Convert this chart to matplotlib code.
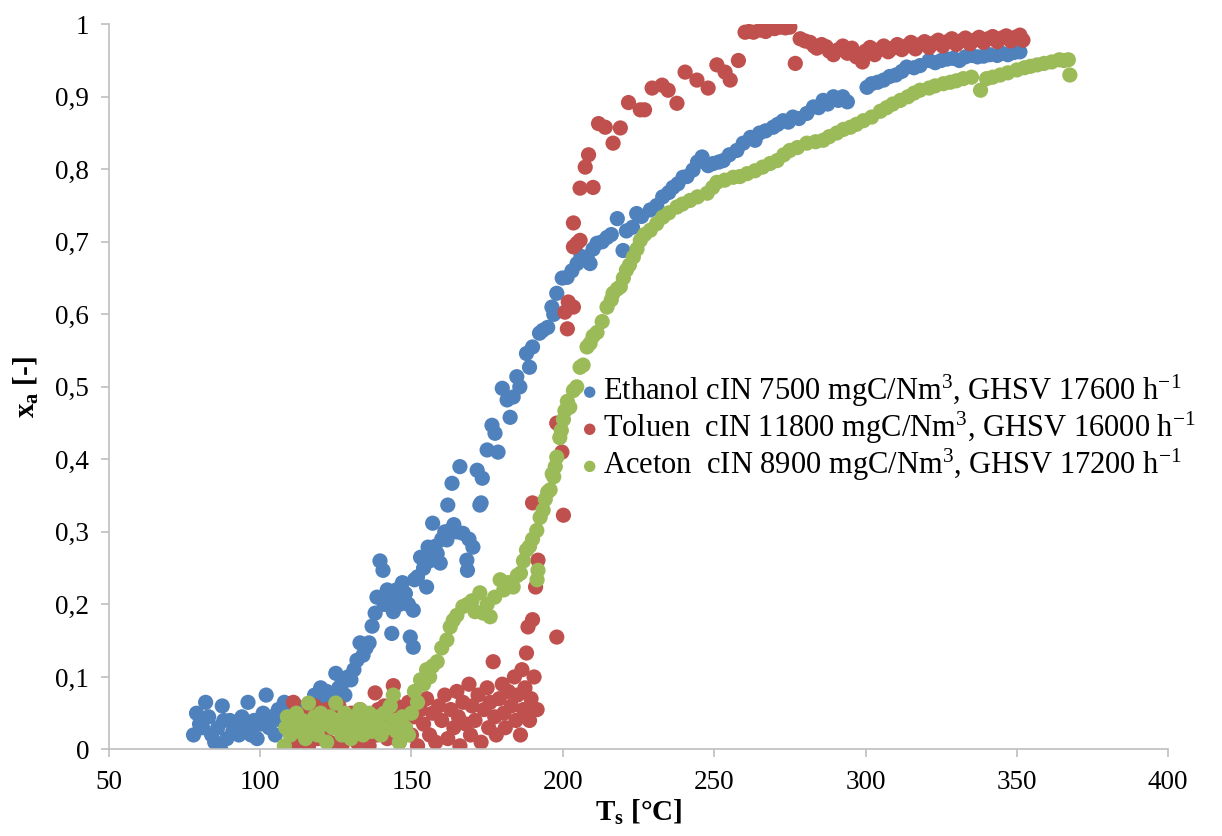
import numpy as np
import matplotlib
matplotlib.use('Agg')
from matplotlib import pyplot as plt

plt.rcParams['font.family'] = ['Liberation Serif', 'DejaVu Serif']
plt.rcParams['mathtext.fontset'] = 'custom'
plt.rcParams['mathtext.rm'] = 'Liberation Serif'
plt.rcParams['mathtext.it'] = 'Liberation Serif:italic'
plt.rcParams['mathtext.bf'] = 'Liberation Serif:bold'

BLUE = '#4F81BD'
RED = '#C0504D'
GREEN = '#9BBB59'
AXIS_GREY = '#BFBFBF'

# (T_s [°C], x_a [-])
ethanol = np.array([
    (78, 0.02), (79, 0.05), (80, 0.035), (81, 0.03), (82, 0.065), (83, 0.045), (84, 0.02),
    (85, 0.01), (86, 0.03), (87, 0.0), (87.5, 0.06), (88, 0.04), (89, 0.015), (90, 0.04),
    (91, 0.025), (92, 0.035), (93, 0.02), (94, 0.045), (95, 0.03), (96, 0.065), (97, 0.02),
    (98, 0.04), (99, 0.015), (100, 0.035), (101, 0.05), (102, 0.075), (103, 0.03), (104, 0.045),
    (105, 0.02), (106, 0.055), (107, 0.04), (108, 0.065), (109, 0.03), (110, 0.05), (111, 0.04),
    (112, 0.06), (113, 0.035), (114, 0.055), (115, 0.045), (116, 0.06), (117, 0.04), (118, 0.075),
    (119, 0.05), (120, 0.085), (121, 0.065), (122, 0.08), (123, 0.06), (124, 0.07), (125, 0.105),
    (126, 0.085), (127, 0.09), (128, 0.075), (129, 0.1), (130, 0.096), (131, 0.11), (132, 0.123),
    (133, 0.147), (134, 0.13), (135, 0.14), (136, 0.147), (137, 0.17), (138, 0.188), (138.6, 0.21),
    (139.6, 0.26), (140.6, 0.247), (141, 0.2), (142, 0.22), (143, 0.21), (143.5, 0.16), (144, 0.19),
    (145, 0.22), (146, 0.2), (147, 0.23), (148, 0.215), (149, 0.2), (149.6, 0.155), (150.6, 0.141),
    (150.6, 0.192), (151, 0.234), (152, 0.238), (153, 0.265), (154, 0.25), (155, 0.224),
    (155.5, 0.279), (156, 0.26), (157, 0.312), (157.8, 0.28), (158.5, 0.27), (159.5, 0.257),
    (160, 0.29), (161, 0.3), (161.7, 0.289), (162, 0.337), (162.7, 0.302), (163.4, 0.367),
    (164, 0.31), (165, 0.3), (166, 0.39), (167, 0.298), (168.3, 0.261), (168.5, 0.247), (169, 0.29),
    (170.3, 0.279), (171.7, 0.385), (172.6, 0.337), (173, 0.34), (173.4, 0.374), (175, 0.413),
    (176.6, 0.447), (177.6, 0.436), (178.6, 0.41), (180, 0.498), (181.6, 0.482), (182.6, 0.458),
    (183.6, 0.486), (184.8, 0.514), (185.8, 0.5), (188, 0.546), (189, 0.527), (190, 0.555),
    (192.3, 0.574), (193.4, 0.578), (195, 0.582), (196.4, 0.61), (197, 0.6), (198, 0.629),
    (199.8, 0.65), (201.4, 0.651), (203, 0.66), (204.7, 0.67), (206, 0.68), (208, 0.679),
    (209, 0.67), (210, 0.69), (211.3, 0.698), (213, 0.7), (214.6, 0.706), (216, 0.71),
    (218, 0.732), (219.9, 0.688), (221, 0.715), (223, 0.72), (224.4, 0.739), (226, 0.735),
    (228.9, 0.744), (231, 0.75), (233, 0.762), (235, 0.768), (236.4, 0.775), (238, 0.78),
    (239.7, 0.789), (241, 0.79), (243, 0.799), (244.5, 0.81), (246, 0.817), (248, 0.805),
    (249.7, 0.808), (251.5, 0.81), (253, 0.812), (255, 0.82), (257.5, 0.826), (259.6, 0.836),
    (262, 0.844), (263.5, 0.84), (265, 0.85), (267, 0.853), (269.5, 0.858), (271, 0.862),
    (272.8, 0.867), (274.5, 0.865), (276, 0.872), (278, 0.87), (280.6, 0.877), (282.8, 0.886),
    (284.5, 0.885), (286, 0.895), (287.5, 0.89), (289.4, 0.9), (291, 0.895), (292.5, 0.9),
    (294, 0.893), (300.5, 0.913), (302, 0.918), (304, 0.92), (306, 0.923), (308, 0.928),
    (310, 0.93), (312, 0.935), (313.6, 0.941), (316, 0.94), (318, 0.943), (321, 0.95),
    (323, 0.947), (325, 0.95), (327, 0.952), (329, 0.953), (331, 0.95), (333, 0.955),
    (335, 0.957), (337, 0.955), (339, 0.956), (341, 0.958), (343.5, 0.957), (345, 0.96),
    (347, 0.958), (349, 0.961), (351, 0.962),
])

toluen = np.array([
    (110, 0.03), (111, 0.065), (112, 0.01), (113, 0.04), (114, 0.02), (115, 0.05), (116, 0.005),
    (117, 0.035), (118, 0.06), (119, 0.015), (120, 0.045), (121, 0.025), (122, 0.055), (123, 0.01),
    (124, 0.04), (125, 0.03), (126, 0.06), (127, 0.005), (128, 0.045), (129, 0.02), (130, 0.05),
    (131, 0.035), (132, 0.01), (133, 0.055), (134, 0.025), (135, 0.045), (136, 0.005), (137, 0.04),
    (138, 0.078), (138.5, 0.02), (139, 0.055), (140, 0.03), (141, 0.06), (142, 0.015), (143, 0.045),
    (144, 0.088), (144.5, 0.035), (145, 0.06), (146, 0.01), (147, 0.05), (148, 0.03), (149, 0.065),
    (150, 0.02), (151, 0.045), (152, 0.005), (153, 0.055), (154, 0.035), (155, 0.07), (156, 0.02),
    (157, 0.05), (158, 0.01), (159, 0.06), (160, 0.04), (161, 0.075), (162, 0.015), (163, 0.055),
    (164, 0.03), (165, 0.08), (165.5, 0.045), (166, 0.005), (167, 0.065), (168, 0.035), (169, 0.09),
    (169.5, 0.02), (170, 0.06), (171, 0.04), (172, 0.075), (173, 0.01), (174, 0.055), (175, 0.085),
    (175.5, 0.03), (176, 0.065), (177, 0.121), (177.5, 0.045), (178, 0.02), (179, 0.07), (180, 0.09),
    (180.5, 0.05), (181, 0.03), (182, 0.08), (183, 0.06), (184, 0.1), (184.5, 0.04), (185, 0.075),
    (186, 0.02), (186.5, 0.11), (187, 0.055), (187.5, 0.085), (188, 0.133), (188.5, 0.169),
    (189, 0.04), (189.5, 0.07), (190, 0.179), (190.5, 0.1), (191, 0.224), (191.5, 0.055),
    (191.8, 0.261), (190, 0.34), (198, 0.155), (198, 0.45), (199.7, 0.41), (200.2, 0.323),
    (200.7, 0.603), (201.5, 0.58), (201.8, 0.617), (203.5, 0.61), (203.5, 0.693), (203.5, 0.726),
    (204.7, 0.698), (205.7, 0.702), (205.7, 0.774), (207.4, 0.803), (208.5, 0.82), (210, 0.775),
    (211.8, 0.863), (214, 0.858), (216.6, 0.836), (219, 0.857), (221.7, 0.892), (225.6, 0.882),
    (227, 0.882), (229.5, 0.912), (232.8, 0.916), (234.8, 0.909), (237.7, 0.891), (240.4, 0.934),
    (244.3, 0.923), (248, 0.912), (250.9, 0.944), (253.6, 0.934), (255.3, 0.923), (258, 0.95),
    (260.2, 0.989), (261.5, 0.99), (263, 0.989), (265.2, 0.992), (267, 0.99), (268.5, 0.996),
    (270, 0.994), (271.8, 0.996), (273.5, 0.995), (275, 0.996), (276.8, 0.946), (278.4, 0.98),
    (280, 0.977), (281.7, 0.975), (283, 0.97), (283.9, 0.967), (285.5, 0.972), (287, 0.969),
    (288, 0.963), (289.4, 0.958), (291, 0.965), (292.5, 0.97), (294, 0.96), (295.5, 0.967),
    (297, 0.955), (299, 0.948), (300, 0.963), (301.5, 0.968), (303, 0.958), (304.5, 0.965),
    (306, 0.97), (307.5, 0.962), (309, 0.967), (310.5, 0.972), (312, 0.965), (313.5, 0.97),
    (315, 0.975), (316.5, 0.966), (318, 0.972), (319.5, 0.976), (321, 0.968), (322.5, 0.974),
    (324, 0.978), (325.5, 0.97), (327, 0.976), (328.5, 0.98), (330, 0.972), (331.5, 0.977),
    (333, 0.981), (334.5, 0.973), (336, 0.978), (337.5, 0.982), (339, 0.975), (340.5, 0.98),
    (342, 0.983), (343.5, 0.976), (345, 0.981), (346.5, 0.984), (348, 0.977), (349.5, 0.982),
    (351, 0.985), (352, 0.978),
])

aceton = np.array([
    (108, 0.005), (108.5, 0.03), (109, 0.045), (110, 0.02), (111, 0.035), (112, 0.05), (113, 0.025),
    (114, 0.04), (115, 0.015), (116, 0.064), (117, 0.03), (118, 0.045), (119, 0.02), (120, 0.05),
    (121, 0.035), (122, 0.01), (123, 0.045), (124, 0.03), (125, 0.064), (126, 0.04), (127, 0.02),
    (128, 0.05), (129, 0.035), (130, 0.015), (131, 0.045), (132, 0.03), (133, 0.055), (134, 0.02),
    (135, 0.04), (136, 0.05), (137, 0.025), (138, 0.045), (139, 0.035), (140, 0.02), (141, 0.05),
    (142, 0.03), (143, 0.06), (144, 0.075), (144.5, 0.04), (145, 0.025), (146, 0.01), (147, 0.045),
    (148, 0.03), (149, 0.02), (150, 0.05), (151, 0.08), (152, 0.065), (153, 0.096), (154, 0.09),
    (155, 0.11), (156, 0.1), (157, 0.115), (158.5, 0.121), (160, 0.14), (161.7, 0.151),
    (162.8, 0.169), (163.8, 0.178), (165, 0.185), (167, 0.197), (168.5, 0.2), (170, 0.205),
    (171, 0.19), (172.6, 0.216), (173.7, 0.188), (175, 0.2), (176, 0.183), (177.5, 0.21),
    (179.3, 0.234), (180.5, 0.22), (182, 0.23), (183.6, 0.224), (185, 0.24), (186, 0.243),
    (187, 0.26), (188, 0.275), (189, 0.28), (190, 0.29), (191.4, 0.302), (191.5, 0.234),
    (191.8, 0.247), (192.5, 0.32), (193.5, 0.33), (194.2, 0.345), (195, 0.355), (195.8, 0.358),
    (196.5, 0.38), (197, 0.376), (197.5, 0.39), (198, 0.403), (199, 0.43), (199.5, 0.44),
    (200.2, 0.455), (200.7, 0.467), (201.5, 0.48), (202.3, 0.472), (203.5, 0.495), (204.6, 0.5),
    (205.7, 0.527), (206.7, 0.53), (208, 0.555), (209, 0.56), (210, 0.57), (211.3, 0.575),
    (213, 0.59), (214.6, 0.61), (216, 0.62), (216.6, 0.629), (218, 0.635), (219, 0.638),
    (220, 0.65), (221, 0.661), (222, 0.668), (223.3, 0.679), (224.5, 0.69), (225.6, 0.702),
    (227, 0.71), (228.9, 0.716), (231, 0.725), (233, 0.734), (235, 0.74), (237.7, 0.748),
    (239.5, 0.752), (242, 0.757), (244.5, 0.762), (247.7, 0.767), (249.5, 0.775), (250.9, 0.782),
    (253.5, 0.785), (256.3, 0.789), (258.5, 0.79), (260.9, 0.794), (263.5, 0.798), (266, 0.803),
    (268.5, 0.808), (270.8, 0.812), (273, 0.82), (275, 0.826), (277.5, 0.83), (280.6, 0.836),
    (283.5, 0.838), (286, 0.84), (288, 0.845), (290.5, 0.85), (292.7, 0.855), (295, 0.858),
    (297, 0.862), (299.3, 0.867), (302, 0.872), (304.9, 0.88), (307, 0.885), (309, 0.89),
    (311.5, 0.895), (314, 0.9), (316, 0.905), (318, 0.909), (321, 0.912), (323, 0.915),
    (325.7, 0.918), (328, 0.92), (330, 0.922), (332.3, 0.925), (335, 0.927), (338, 0.909),
    (340, 0.925), (342, 0.927), (344.5, 0.93), (347, 0.933), (350, 0.937), (352.5, 0.94),
    (354.5, 0.942), (356.7, 0.944), (359, 0.946), (361.5, 0.948), (364, 0.951), (365.5, 0.95),
    (367, 0.951), (367.5, 0.93),
])

labels = [
    'Ethanol cIN 7500 mgC/Nm$^3$, GHSV 17600 h$^{-1}$',
    'Toluen  cIN 11800 mgC/Nm$^3$, GHSV 16000 h$^{-1}$',
    'Aceton  cIN 8900 mgC/Nm$^3$, GHSV 17200 h$^{-1}$',
]
x_ticks = [50, 100, 150, 200, 250, 300, 350, 400]
y_ticks = [0, 0.1, 0.2, 0.3, 0.4, 0.5, 0.6, 0.7, 0.8, 0.9, 1]
y_tick_labels = ['0', '0,1', '0,2', '0,3', '0,4', '0,5', '0,6', '0,7', '0,8', '0,9', '1']

fig = plt.figure(figsize=(12.22, 8.36), dpi=100)
ax = fig.add_axes([0.089, 0.1035, 0.867, 0.8675])

for data, colour, label in zip((ethanol, toluen, aceton), (BLUE, RED, GREEN), labels):
    ax.scatter(data[:, 0], data[:, 1], s=120, c=colour, edgecolors='none', label=label)

ax.set_xlim(50, 400)
ax.set_ylim(0, 1)
ax.set_xticks(x_ticks)
ax.set_yticks(y_ticks)
ax.set_yticklabels(y_tick_labels)
ax.tick_params(labelsize=19.5, colors=AXIS_GREY, labelcolor='black', length=6, width=1.2)
ax.tick_params(axis='y', pad=8)
ax.tick_params(axis='x', pad=9)

for side in ('top', 'right'):
    ax.spines[side].set_visible(False)
for side in ('left', 'bottom'):
    ax.spines[side].set_color(AXIS_GREY)
    ax.spines[side].set_linewidth(1.2)

ax.set_xlabel(r'$\mathbf{T_s}$ [°C]', fontsize=21, fontweight='bold', labelpad=2)
ax.set_ylabel(r'$\mathbf{x_a}$ [-]', fontsize=21, fontweight='bold', labelpad=10)

ax.legend(loc='center left', bbox_to_anchor=(0.428, 0.443), frameon=False, fontsize=22,
          handletextpad=0.05, handlelength=0.8, labelspacing=0.03, borderpad=0, markerscale=0.75)

fig.savefig('out.png', dpi=100)
